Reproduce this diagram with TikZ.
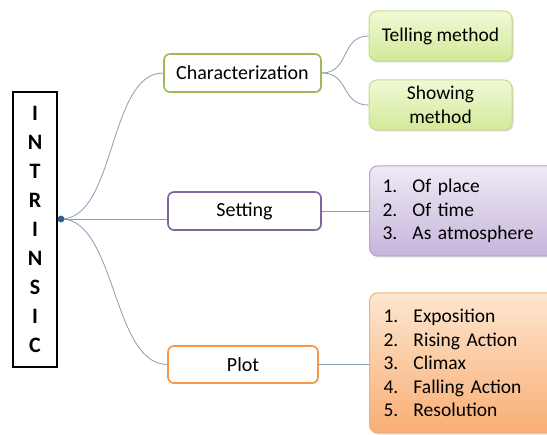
\documentclass[tikz,border=0pt]{standalone}
\usepackage{fontspec}
\setmainfont{Carlito}
\usetikzlibrary{shadows}
\definecolor{grn}{HTML}{9BBB59}
\definecolor{pur}{HTML}{8064A2}
\definecolor{org}{HTML}{F79646}
\definecolor{conn}{HTML}{8A9BB3}
\definecolor{dotc}{HTML}{2E5C8A}
\definecolor{gtop}{HTML}{F0F9D6}
\definecolor{gbot}{HTML}{D2EA98}
\definecolor{gbrd}{HTML}{C2DE86}
\definecolor{ptop}{HTML}{EFEAF5}
\definecolor{pbot}{HTML}{C6B5DB}
\definecolor{pbrd}{HTML}{B6A2D0}
\definecolor{otop}{HTML}{FDE6D0}
\definecolor{obot}{HTML}{F9AE74}
\definecolor{obrd}{HTML}{F6AE78}
\tikzset{
  conline/.style={draw=conn, line width=0.8pt},
  mainbox/.style={draw, line width=1.6pt, rounded corners=6pt, fill=white, font=\fontsize{20}{24}\selectfont, inner sep=0pt,
     drop shadow={shadow xshift=1.2pt, shadow yshift=-1.2pt, opacity=0.25, fill=gray}},
  leafbox/.style={line width=1pt, rounded corners=8pt, font=\fontsize{19.5}{23.5}\selectfont, inner sep=0pt,
     drop shadow={shadow xshift=1.5pt, shadow yshift=-1.5pt, opacity=0.3, fill=gray}},
  greenleaf/.style={leafbox, draw=gbrd, top color=gtop, bottom color=gbot, align=center, minimum width=143pt, minimum height=50pt},
  purleaf/.style={leafbox, draw=pbrd, top color=ptop, bottom color=pbot, align=left, anchor=west, inner xsep=13pt, text width=170pt, minimum height=90pt},
  orgleaf/.style={leafbox, draw=obrd, top color=otop, bottom color=obot, align=left, anchor=west, inner xsep=14pt, text width=170pt, minimum height=140pt},
}
\newcommand{\itm}[2]{\makebox[30pt][l]{#1}#2}
\begin{document}
\begin{tikzpicture}[x=1pt,y=-1pt]
\useasboundingbox (0,0) rectangle (547,435);
\clip (0,0) rectangle (547,435);
% INTRINSIC box
\node[draw, line width=1.2pt, minimum width=44pt, minimum height=275pt, inner sep=0pt, align=center,
      font=\fontsize{22}{29}\selectfont\bfseries] (root) at (35,229.5) {I\\N\\T\\R\\I\\N\\S\\I\\C};
\coordinate (hub) at (61,219);
% main nodes
\node[mainbox, draw=grn, minimum width=157pt, minimum height=38pt] (char) at (242.5,73) {Characterization};
\node[mainbox, draw=pur, minimum width=153pt, minimum height=38pt] (set) at (244.5,211) {Setting};
\node[mainbox, draw=org, minimum width=150pt, minimum height=37pt] (plot) at (243,364.5) {Plot};
% leaves
\node[greenleaf] (tell) at (440.5,36) {Telling method};
\node[greenleaf] (show) at (440.5,105) {Showing\\method};
\node[purleaf] (setl) at (369,211) {\itm{1.}{Of place}\\\itm{2.}{Of time}\\\itm{3.}{As atmosphere}};
\node[orgleaf] (plotl) at (369,363) {\itm{1.}{Exposition}\\\itm{2.}{Rising Action}\\\itm{3.}{Climax}\\\itm{4.}{Falling Action}\\\itm{5.}{Resolution}};
% connectors
\draw[conline] (hub) .. controls +(55,0) and +(-55,0) .. (char.west);
\draw[conline] (hub) -- (set.west |- hub);
\draw[conline] (hub) .. controls +(55,0) and +(-55,0) .. (plot.west);
\draw[conline] (char.east) .. controls +(28,0) and +(-28,0) .. (tell.west);
\draw[conline] (char.east) .. controls +(28,0) and +(-28,0) .. (show.west);
\draw[conline] (set.east) -- (setl.west |- set.east);
\draw[conline] (plot.east) -- (plotl.west |- plot.east);
\fill[dotc] (hub) circle (3.4pt);
\end{tikzpicture}
\end{document}
